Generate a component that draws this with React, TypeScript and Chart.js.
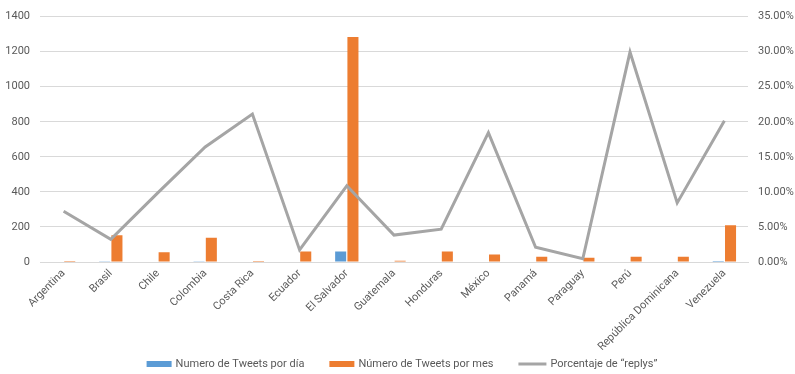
import React, { useEffect, useRef } from "react";
import { Chart, registerables } from "chart.js";

Chart.register(...registerables);

const categories = [
  "Argentina", "Brasil", "Chile", "Colombia", "Costa Rica", "Ecuador", "El Salvador",
  "Guatemala", "Honduras", "México", "Panamá", "Paraguay", "Perú", "República Dominicana", "Venezuela",
];
const tweetsPerDay = [0, 4, 0, 4, 0, 0, 60, 0, 0, 0, 0, 0, 0, 0, 6];
const tweetsPerMonth = [5, 153, 56, 138, 5, 60, 1283, 7, 60, 43, 30, 24, 30, 30, 210];
const replyPercent = [7.25, 3.23, 9.9, 16.4, 21.1, 1.73, 10.87, 3.84, 4.68, 18.46, 2.1, 0.46, 29.94, 8.43, 20.15];

const seriesNames = ["Numero de Tweets por día", "Número de Tweets por mes", "Porcentaje de “replys”"];
const seriesColors = ["#5B9BD5", "#ED7D31", "#A5A5A5"];

const FONT = "Roboto, 'Noto Sans', sans-serif";
const TEXT = "#595959";
const GRID = "#D9D9D9";

const bottomLegend = {
  id: "bottomLegend",
  afterDraw(chart: any) {
    const ctx = chart.ctx as CanvasRenderingContext2D;
    ctx.save();
    ctx.font = `11px ${FONT}`;
    ctx.textBaseline = "middle";
    ctx.textAlign = "left";
    const y = 364;
    const gap = 4;
    const spacing = 25;
    const items = chart.data.datasets.map((ds: any, i: number) => ({
      label: ds.label as string,
      color: seriesColors[i],
      isLine: ds.type === "line",
      box: ds.type === "line" ? 28 : 25,
      w: ctx.measureText(ds.label).width,
    }));
    const total =
      items.reduce((s: number, it: any) => s + it.box + gap + it.w, 0) + spacing * (items.length - 1);
    let x = 402 - total / 2;
    for (const it of items) {
      if (it.isLine) {
        ctx.strokeStyle = it.color;
        ctx.lineWidth = 3;
        ctx.beginPath();
        ctx.moveTo(x, y);
        ctx.lineTo(x + it.box, y);
        ctx.stroke();
      } else {
        ctx.fillStyle = it.color;
        ctx.fillRect(x, y - 3, it.box, 6);
      }
      x += it.box + gap;
      ctx.fillStyle = TEXT;
      ctx.fillText(it.label, x, y);
      x += it.w + spacing;
    }
    ctx.restore();
  },
};

export default function App() {
  const ref = useRef<HTMLCanvasElement | null>(null);
  useEffect(() => {
    document.body.style.margin = "0";
    const canvas = ref.current;
    if (!canvas) return;
    const chart = new Chart(canvas, {
      type: "bar",
      data: {
        labels: categories,
        datasets: [
          {
            type: "bar",
            label: seriesNames[0],
            data: tweetsPerDay,
            backgroundColor: seriesColors[0],
            borderWidth: 0,
            yAxisID: "y",
            order: 1,
            categoryPercentage: 0.52,
            barPercentage: 0.9,
          } as any,
          {
            type: "bar",
            label: seriesNames[1],
            data: tweetsPerMonth,
            backgroundColor: seriesColors[1],
            borderWidth: 0,
            yAxisID: "y",
            order: 1,
            categoryPercentage: 0.52,
            barPercentage: 0.9,
          } as any,
          {
            type: "line",
            label: seriesNames[2],
            data: replyPercent,
            borderColor: seriesColors[2],
            backgroundColor: seriesColors[2],
            borderWidth: 3,
            pointRadius: 0,
            tension: 0,
            yAxisID: "y1",
            order: 0,
          } as any,
        ],
      },
      plugins: [bottomLegend],
      options: {
        responsive: false,
        animation: false,
        layout: { padding: { top: 5, left: 0, right: 0, bottom: 22 } },
        plugins: {
          tooltip: { enabled: false },
          legend: { display: false },
        },
        scales: {
          x: {
            grid: { display: false, drawTicks: false },
            border: { color: GRID },
            afterFit: (scale: any) => {
              scale.height = 90;
            },
            ticks: {
              color: TEXT,
              font: { family: FONT, size: 11 },
              minRotation: 45,
              maxRotation: 45,
              autoSkip: false,
              padding: 5,
            },
          },
          y: {
            position: "left",
            min: 0,
            max: 1400,
            grid: { color: GRID, drawTicks: false },
            border: { display: false },
            afterFit: (scale: any) => {
              scale.width = 40;
            },
            ticks: {
              stepSize: 200,
              color: TEXT,
              font: { family: FONT, size: 11 },
              padding: 10,
              callback: (v: any) => String(v),
            },
          },
          y1: {
            position: "right",
            min: 0,
            max: 35,
            grid: { display: false, drawTicks: false },
            border: { display: false },
            afterFit: (scale: any) => {
              scale.width = 47;
            },
            ticks: {
              stepSize: 5,
              color: TEXT,
              font: { family: FONT, size: 11 },
              padding: 10,
              callback: (v: any) => Number(v).toFixed(2) + "%",
            },
          },
        },
      },
    });
    return () => chart.destroy();
  }, []);
  return (
    <div style={{ width: 795, height: 374 }}>
      <canvas ref={ref} width={795} height={374} style={{ display: "block" }} />
    </div>
  );
}
